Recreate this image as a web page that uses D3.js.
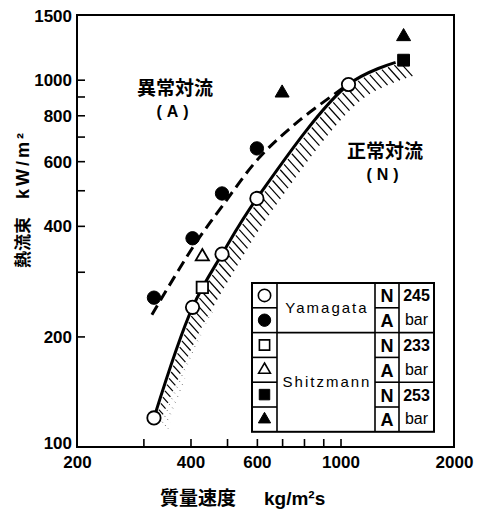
<!DOCTYPE html>
<html>
<head>
<meta charset="utf-8">
<script src="https://cdn.jsdelivr.net/npm/d3@7"></script>
<style>
  body { margin: 0; background: #fff; }
  svg { display: block; }
  .tick-label text { font-family: "Liberation Sans", Arial, sans-serif; font-weight: bold; font-size: 17px; fill: #000; }
</style>
</head>
<body>
<svg width="485" height="512"></svg>
<script>
// axis ticks
var xLabelTicks = [200, 400, 600, 1000, 2000],
    xTickMarks = [300, 400, 500, 600, 700, 800, 900, 1000],
    yLabelTicks = [100, 200, 400, 600, 800, 1000, 1500],
    yTickMarks = [200, 300, 400, 500, 600, 700, 800, 900, 1000];

// measured points [mass velocity, heat flux]
var yamagataN = [[320, 120], [405, 240], [485, 335], [600, 475], [1050, 970]],
    yamagataA = [[320, 255], [405, 370], [485, 490], [600, 650]],
    shitz233N = [[430, 272]],
    shitz233A = [[430, 330]],
    shitz253N = [[1470, 1130]],
    shitz253A = [[700, 920], [1470, 1310]];

// boundary curves
var normalCurve = [[320, 120], [405, 240], [485, 335], [600, 475], [1050, 970], [1400, 1115]],
    anomalousCurve = [[316, 229], [406, 350], [488, 456], [611, 616], [781, 777], [1015, 949]];

var svg = d3.select("svg");

var x = d3.scaleLog().domain([200, 2000]).range([77, 454]),
    y = d3.scaleLog().domain([100, 1500]).range([447, 15]);

var line = d3.line()
    .x(function(d) { return x(d[0]); })
    .y(function(d) { return y(d[1]); })
    .curve(d3.curveCatmullRom.alpha(0.5));

// tick marks (inside)
svg.append("g")
    .attr("transform", "translate(0," + y(100) + ")")
    .call(d3.axisBottom(x).tickValues(xTickMarks).tickSize(-8).tickFormat(""))
    .call(function(g) { g.select(".domain").remove(); })
    .selectAll("line").attr("stroke", "#000").attr("stroke-width", 1.6);

svg.append("g")
    .attr("transform", "translate(" + x(200) + ",0)")
    .call(d3.axisLeft(y).tickValues(yTickMarks).tickSize(-8).tickFormat(""))
    .call(function(g) { g.select(".domain").remove(); })
    .selectAll("line").attr("stroke", "#000").attr("stroke-width", 1.6);

// tick labels
svg.append("g")
    .attr("class", "tick-label")
    .attr("transform", "translate(0," + y(100) + ")")
    .call(d3.axisBottom(x).tickValues(xLabelTicks).tickSize(0).tickPadding(9).tickFormat(d3.format("d")))
    .call(function(g) { g.select(".domain").remove(); });

svg.append("g")
    .attr("class", "tick-label")
    .attr("transform", "translate(" + x(200) + ",0)")
    .call(d3.axisLeft(y).tickValues(yLabelTicks).tickSize(0).tickPadding(5).tickFormat(d3.format("d")))
    .call(function(g) { g.select(".domain").remove(); })
    .selectAll("text")
      .attr("dy", function(d) { return d === 100 ? "0.1em" : "0.36em"; });

// frame
svg.append("rect")
    .attr("x", x(200)).attr("y", y(1500))
    .attr("width", x(2000) - x(200)).attr("height", y(100) - y(1500))
    .attr("fill", "none").attr("stroke", "#000").attr("stroke-width", 2);

// axis titles
var titleFont = '"Noto Sans CJK JP", sans-serif';
var xt = svg.append("text")
    .attr("x", 160).attr("y", 505)
    .attr("font-family", titleFont).attr("font-weight", "bold").attr("font-size", 19);
xt.append("tspan").text("質量速度");
xt.append("tspan").attr("dx", 28)
    .attr("font-family", '"Liberation Sans", Arial, sans-serif')
    .text("kg/m²s");

var yt = svg.append("text")
    .attr("transform", "translate(29,268) rotate(-90)")
    .attr("font-family", titleFont).attr("font-weight", "bold").attr("font-size", 17);
yt.append("tspan").text("熱流束");
yt.append("tspan").attr("dx", 18)
    .attr("font-family", '"Liberation Sans", Arial, sans-serif')
    .attr("font-size", 18).attr("letter-spacing", 3)
    .text("kW/m²");

// region labels
function regionLabel(cx, cy, main, sub) {
  svg.append("text")
      .attr("x", cx).attr("y", cy)
      .attr("text-anchor", "middle")
      .attr("font-family", titleFont).attr("font-weight", "bold").attr("font-size", 19)
      .text(main);
  svg.append("text")
      .attr("x", cx).attr("y", cy + 22)
      .attr("text-anchor", "middle")
      .attr("font-family", '"Liberation Sans", Arial, sans-serif').attr("font-weight", "bold")
      .attr("font-size", 16).attr("letter-spacing", 5)
      .text(sub);
}
regionLabel(175, 95, "異常対流", "(A)");
regionLabel(385, 158, "正常対流", "(N)");

// normal convection boundary with hatching
var normalPath = svg.append("path")
    .datum(normalCurve)
    .attr("d", line)
    .attr("fill", "none").attr("stroke", "#000").attr("stroke-width", 3);

var node = normalPath.node(),
    total = node.getTotalLength(),
    ang = 48 * Math.PI / 180,
    hx = Math.cos(ang), hy = Math.sin(ang),
    hatch = svg.append("g");

for (var s = 4; s <= total + 4; s += 6.6) {
  var p = node.getPointAtLength(Math.min(s, total)),
      f = s / total,
      full = 20,
      solid = f < 0.3 ? 8 + (f / 0.3) * 12 : full;
  if (s > total) { p = {x: p.x + (s - total) * 0.95, y: p.y - (s - total) * 0.3}; }
  hatch.append("line")
      .attr("x1", p.x + 2.5 * hx).attr("y1", p.y + 2.5 * hy)
      .attr("x2", p.x + solid * hx).attr("y2", p.y + solid * hy)
      .attr("stroke", "#000").attr("stroke-width", 1.2);
  if (solid < full) {
    hatch.append("line")
        .attr("x1", p.x + (solid + 2) * hx).attr("y1", p.y + (solid + 2) * hy)
        .attr("x2", p.x + full * hx).attr("y2", p.y + full * hy)
        .attr("stroke", "#555").attr("stroke-width", 1)
        .attr("stroke-dasharray", "1,3.5");
  }
}

// anomalous convection boundary
svg.append("path")
    .datum(anomalousCurve)
    .attr("d", line)
    .attr("fill", "none").attr("stroke", "#000").attr("stroke-width", 3)
    .attr("stroke-dasharray", "11,6");

// markers
function drawMarkers(data, type, open, size) {
  var g = svg.append("g");
  g.selectAll("path")
    .data(data)
    .enter().append("path")
      .attr("transform", function(d) { return "translate(" + x(d[0]) + "," + y(d[1]) + ")"; })
      .attr("d", d3.symbol().type(type).size(size))
      .attr("fill", open ? "#fff" : "#000")
      .attr("stroke", "#000").attr("stroke-width", open ? 1.8 : 1);
}
drawMarkers(yamagataN, d3.symbolCircle, true, 140);
drawMarkers(yamagataA, d3.symbolCircle, false, 140);
drawMarkers(shitz233N, d3.symbolSquare, true, 130);
drawMarkers(shitz233A, d3.symbolTriangle, true, 75);
drawMarkers(shitz253N, d3.symbolSquare, false, 140);
drawMarkers(shitz253A, d3.symbolTriangle, false, 85);

// legend table
var legendRows = [
  {type: d3.symbolCircle, open: true, size: 120, flag: "N"},
  {type: d3.symbolCircle, open: false, size: 120, flag: "A"},
  {type: d3.symbolSquare, open: true, size: 105, flag: "N"},
  {type: d3.symbolTriangle, open: true, size: 60, flag: "A"},
  {type: d3.symbolSquare, open: false, size: 110, flag: "N"},
  {type: d3.symbolTriangle, open: false, size: 65, flag: "A"}
];
var legendNames = [{name: "Yamagata", from: 0, to: 2}, {name: "Shitzmann", from: 2, to: 6}],
    legendPressure = [{p: "245", from: 0}, {p: "233", from: 2}, {p: "253", from: 4}];

var lx = [252, 277, 375, 399, 434], ly0 = 283, rowH = 24.8,
    lg = svg.append("g");

lg.append("rect")
    .attr("x", lx[0]).attr("y", ly0)
    .attr("width", lx[4] - lx[0]).attr("height", rowH * 6)
    .attr("fill", "#fff").attr("stroke", "#000").attr("stroke-width", 2);

[1, 2, 3].forEach(function(c) {
  lg.append("line")
      .attr("x1", lx[c]).attr("x2", lx[c])
      .attr("y1", ly0).attr("y2", ly0 + rowH * 6)
      .attr("stroke", "#000").attr("stroke-width", 1.6);
});

legendRows.forEach(function(r, i) {
  var cy = ly0 + rowH * (i + 0.5);
  if (i > 0) {
    [[0, 1], [2, 3]].forEach(function(c) {
      lg.append("line")
          .attr("x1", lx[c[0]]).attr("x2", lx[c[1]])
          .attr("y1", ly0 + rowH * i).attr("y2", ly0 + rowH * i)
          .attr("stroke", "#000").attr("stroke-width", 1.6);
    });
  }
  lg.append("path")
      .attr("transform", "translate(" + (lx[0] + lx[1]) / 2 + "," + cy + ")")
      .attr("d", d3.symbol().type(r.type).size(r.size))
      .attr("fill", r.open ? "#fff" : "#000")
      .attr("stroke", "#000").attr("stroke-width", r.open ? 1.6 : 1);
  lg.append("text")
      .attr("x", (lx[2] + lx[3]) / 2).attr("y", cy + 7)
      .attr("text-anchor", "middle")
      .attr("font-family", '"Liberation Sans", Arial, sans-serif').attr("font-weight", "bold")
      .attr("font-size", 18)
      .text(r.flag);
});

legendNames.forEach(function(n) {
  if (n.from > 0) {
    lg.append("line")
        .attr("x1", lx[1]).attr("x2", lx[2])
        .attr("y1", ly0 + rowH * n.from).attr("y2", ly0 + rowH * n.from)
        .attr("stroke", "#000").attr("stroke-width", 1.6);
  }
  lg.append("text")
      .attr("x", (lx[1] + lx[2]) / 2 + 1).attr("y", ly0 + rowH * (n.from + n.to) / 2 + 5)
      .attr("text-anchor", "middle")
      .attr("font-family", '"Liberation Sans", Arial, sans-serif')
      .attr("font-size", 15).attr("letter-spacing", 2)
      .text(n.name);
});

legendPressure.forEach(function(p) {
  if (p.from > 0) {
    lg.append("line")
        .attr("x1", lx[3]).attr("x2", lx[4])
        .attr("y1", ly0 + rowH * p.from).attr("y2", ly0 + rowH * p.from)
        .attr("stroke", "#000").attr("stroke-width", 1.6);
  }
  var t = lg.append("text")
      .attr("x", (lx[3] + lx[4]) / 2)
      .attr("text-anchor", "middle")
      .attr("font-family", '"Liberation Sans", Arial, sans-serif')
      .attr("font-size", 16);
  t.append("tspan").attr("x", (lx[3] + lx[4]) / 2).attr("y", ly0 + rowH * (p.from + 0.5) + 6)
      .attr("font-weight", "bold").text(p.p);
  t.append("tspan").attr("x", (lx[3] + lx[4]) / 2).attr("y", ly0 + rowH * (p.from + 1.5) + 5)
      .text("bar");
});
</script>
</body>
</html>
